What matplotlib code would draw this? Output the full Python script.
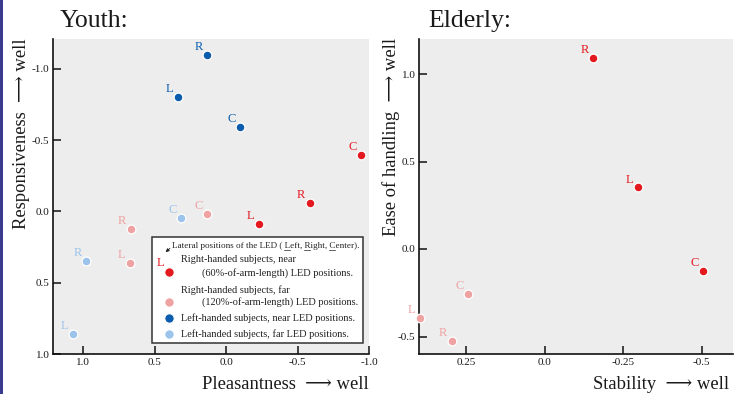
import matplotlib
matplotlib.use('Agg')
import matplotlib.pyplot as plt
from matplotlib.lines import Line2D
from matplotlib.patches import Rectangle, FancyArrowPatch

plt.rcParams['font.family'] = ['Liberation Serif', 'DejaVu Serif', 'DejaVu Sans']
plt.rcParams['axes.unicode_minus'] = False

# ---------------- data ----------------
letters = ['L', 'R', 'C']

# Youth: x = Pleasantness, y = Responsiveness
youth_rn_x = [-0.231, -0.584, -0.942]   # right-handed, near
youth_rn_y = [0.086, -0.061, -0.397]
youth_rf_x = [0.670, 0.667, 0.130]      # right-handed, far
youth_rf_y = [0.359, 0.121, 0.018]
youth_ln_x = [0.335, 0.132, -0.100]     # left-handed, near
youth_ln_y = [-0.800, -1.096, -0.592]
youth_lf_x = [1.070, 0.979, 0.317]      # left-handed, far
youth_lf_y = [0.860, 0.350, 0.046]

# Elderly: x = Stability, y = Ease of handling
elderly_rn_x = [-0.297, -0.154, -0.506]
elderly_rn_y = [0.352, 1.090, -0.124]
elderly_rf_x = [0.396, 0.296, 0.244]
elderly_rf_y = [-0.394, -0.524, -0.257]

youth_xticks = [1.0, 0.5, 0.0, -0.5, -1.0]
youth_xticklabels = ['1.0', '0.5', '0.0', '-0.5', '-1.0']
youth_yticks = [-1.0, -0.5, 0.0, 0.5, 1.0]
youth_yticklabels = ['-1.0', '-0.5', '0.0', '0.5', '1.0']
elderly_xticks = [0.25, 0.0, -0.25, -0.5]
elderly_xticklabels = ['0.25', '0.0', '-0.25', '-0.5']
elderly_yticks = [-0.5, 0.0, 0.5, 1.0]
elderly_yticklabels = ['-0.5', '0.0', '0.5', '1.0']

legend_labels = [
    ('Right-handed subjects, near', '(60%-of-arm-length) LED positions.'),
    ('Right-handed subjects, far', '(120%-of-arm-length) LED positions.'),
    ('Left-handed subjects, near LED positions.', None),
    ('Left-handed subjects, far LED positions.', None),
]

C_RN = '#E3191F'
C_RF = '#EFA2A2'
C_LN = '#0B5CAD'
C_LF = '#9CC3EB'
BG = '#EDEDED'
TXT = '#1a1a1a'
ARROW = '\u27f6'

W, H = 748, 394
fig = plt.figure(figsize=(W / 100, H / 100), dpi=100)


def fx(px):
    return px / W


def fy(py):
    return 1 - py / H


def setup_axes(ax, xlim, ylim, xt, xtl, yt, ytl):
    ax.set_facecolor(BG)
    ax.set_xlim(*xlim)
    ax.set_ylim(*ylim)
    ax.set_xticks(xt)
    ax.set_xticklabels(xtl)
    ax.set_yticks(yt)
    ax.set_yticklabels(ytl)
    for s in ['top', 'right']:
        ax.spines[s].set_visible(False)
    for s in ['left', 'bottom']:
        ax.spines[s].set_linewidth(1.2)
        ax.spines[s].set_color('#111111')
    ax.tick_params(direction='in', length=6, width=1.1, labelsize=8,
                   color='#111111', labelcolor=TXT)
    ax.tick_params(axis='y', pad=2.5)
    ax.tick_params(axis='x', pad=3)


def plot_group(ax, xs, ys, color):
    ax.scatter(xs, ys, s=40, c=color, edgecolors='white', linewidths=0.9,
               zorder=3, clip_on=False)
    for lx, ly, lt in zip(xs, ys, letters):
        ax.annotate(lt, (lx, ly), xytext=(-6, 5.6), textcoords='offset points',
                    ha='center', va='center', fontsize=9, color=color,
                    zorder=3)


# ---------------- Youth ----------------
ax1 = fig.add_axes([fx(53), fy(354), fx(369) - fx(53), fy(39) - fy(354)])
setup_axes(ax1, (1.21, -1.0), (1.0, -1.208), youth_xticks, youth_xticklabels,
           youth_yticks, youth_yticklabels)
plot_group(ax1, youth_rn_x, youth_rn_y, C_RN)
plot_group(ax1, youth_rf_x, youth_rf_y, C_RF)
plot_group(ax1, youth_ln_x, youth_ln_y, C_LN)
plot_group(ax1, youth_lf_x, youth_lf_y, C_LF)

# ---------------- Elderly ----------------
ax2 = fig.add_axes([fx(419), fy(354), fx(733) - fx(419), fy(39) - fy(354)])
setup_axes(ax2, (0.4, -0.6), (-0.6, 1.2), elderly_xticks, elderly_xticklabels,
           elderly_yticks, elderly_yticklabels)
plot_group(ax2, elderly_rn_x, elderly_rn_y, C_RN)
plot_group(ax2, elderly_rf_x, elderly_rf_y, C_RF)

# ---------------- titles / labels ----------------
fig.text(fx(60), fy(27), 'Youth:', fontsize=18.5, va='baseline', ha='left',
         color=TXT)
fig.text(fx(428), fy(27), 'Elderly:', fontsize=18.5, va='baseline', ha='left',
         color=TXT)
fig.text(fx(369), fy(389), 'Pleasantness  ' + ARROW + ' well', fontsize=13.4,
         va='baseline', ha='right', color=TXT)
fig.text(fx(729), fy(389), 'Stability  ' + ARROW + ' well', fontsize=13.4,
         va='baseline', ha='right', color=TXT)
fig.text(fx(22), fy(38), 'Responsiveness  ' + ARROW + ' well', fontsize=13.4,
         rotation=90, va='top', ha='center', color=TXT)
fig.text(fx(391), fy(38), 'Ease of handling  ' + ARROW + ' well', fontsize=13.4,
         rotation=90, va='top', ha='center', color=TXT)

# left decorative bar
fig.add_artist(Rectangle((0, 0), fx(3), 1, transform=fig.transFigure,
                         facecolor='#3A3B8D', edgecolor='none'))

# ---------------- legend (manual) ----------------
fig.add_artist(Rectangle((fx(152.3), fy(342.7)), fx(362.7) - fx(152.3),
                         fy(237.3) - fy(342.7), transform=fig.transFigure,
                         facecolor='white', edgecolor='#333333', lw=1.1,
                         zorder=5))

header_y = 248.5
HFS = 6.55
header = 'Lateral positions of the LED ( Left, Right, Center).'
fig.text(fx(171.5), fy(header_y), header, fontsize=HFS, va='baseline',
         ha='left', zorder=6, color='#222222')

dot_x = 169.3
rows = [
    (C_RN, 271.7, 260.0, 273.3),
    (C_RF, 301.5, 290.0, 301.7),
    (C_LN, 318.3, 318.3, None),
    (C_LF, 334.3, 334.3, None),
]
for (col, dy, y1, y2), (t1, t2) in zip(rows, legend_labels):
    fig.add_artist(Line2D([fx(dot_x)], [fy(dy)], marker='o', markersize=6.8,
                          markerfacecolor=col, markeredgecolor='white',
                          markeredgewidth=0.8, linestyle='none',
                          transform=fig.transFigure, zorder=6))
    fig.text(fx(181), fy(y1), t1, fontsize=7.4, va='center', ha='left',
             zorder=6, color='#222222')
    if t2:
        fig.text(fx(202.3), fy(y2), t2, fontsize=7.4, va='center', ha='left',
                 zorder=6, color='#222222')

fig.text(fx(160.7), fy(263.3), 'L', fontsize=9, color=C_RN, va='center',
         ha='center', zorder=6)
fig.add_artist(FancyArrowPatch(
    (fx(172), fy(246.5)), (fx(163.5), fy(254)), transform=fig.transFigure,
    arrowstyle='-|>', mutation_scale=5, lw=0.6, color='#222222', zorder=6))

# underlines under L, R, C in header
fig.canvas.draw()
r = fig.canvas.get_renderer()


def wpx(s):
    t = fig.text(0, 0, s, fontsize=HFS)
    w = t.get_window_extent(r).width
    t.remove()
    return w


for pre, ch in [('Lateral positions of the LED ( ', 'L'),
                ('Lateral positions of the LED ( Left, ', 'R'),
                ('Lateral positions of the LED ( Left, Right, ', 'C')]:
    x_end = wpx(pre + ch)
    x_start = x_end - wpx(ch)
    fig.add_artist(Line2D([fx(171.5 + x_start), fx(171.5 + x_end)],
                          [fy(header_y + 1.3)] * 2, lw=0.5, color='#222222',
                          transform=fig.transFigure, zorder=6))

fig.savefig('out.png', dpi=100)
